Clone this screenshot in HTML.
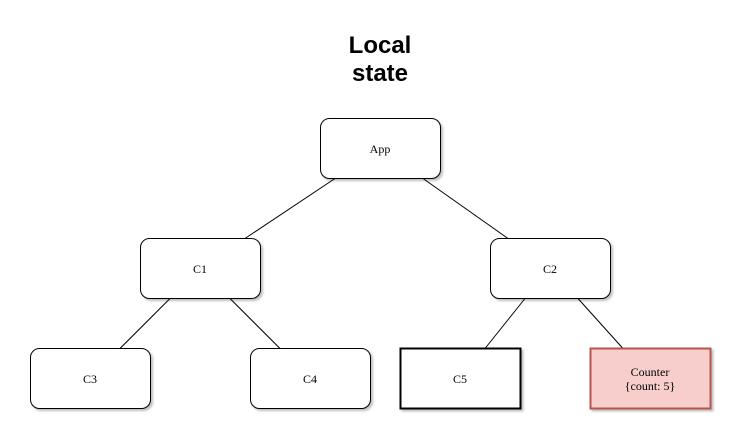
<!DOCTYPE html>
<html><head><meta charset="utf-8"><style>
html,body{margin:0;padding:0;background:#fff;width:744px;height:442px;overflow:hidden}
</style></head><body>
<svg width="744" height="442" xmlns="http://www.w3.org/2000/svg">
<defs><filter id="s" x="-10%" y="-10%" width="130%" height="130%"><feDropShadow dx="2" dy="2" stdDeviation="1" flood-color="#000" flood-opacity="0.25"/></filter></defs>
<text x="380" y="53" text-anchor="middle" font-family="Liberation Sans, sans-serif" font-weight="bold" font-size="24">Local</text>
<text x="380" y="81" text-anchor="middle" font-family="Liberation Sans, sans-serif" font-weight="bold" font-size="24">state</text>
<g stroke="#000" stroke-width="1">
<line x1="335" y1="178.5" x2="245" y2="238.5"/>
<line x1="423" y1="178.5" x2="508" y2="238.5"/>
<line x1="170" y1="298.5" x2="120" y2="348.5"/>
<line x1="230" y1="298.5" x2="280" y2="348.5"/>
<line x1="525" y1="298.5" x2="485" y2="348.5"/>
<line x1="578" y1="298.5" x2="623" y2="348.5"/>
</g>
<g fill="#fff" stroke="#000" stroke-width="1" filter="url(#s)">
<rect x="320.5" y="118.5" width="120" height="60" rx="9"/>
<rect x="140.5" y="238.5" width="120" height="60" rx="9"/>
<rect x="490.5" y="238.5" width="120" height="60" rx="9"/>
<rect x="30.5" y="348.5" width="120" height="60" rx="9"/>
<rect x="250.5" y="348.5" width="120" height="60" rx="9"/>
<rect x="400.5" y="348.5" width="120" height="60" stroke-width="2"/>
<rect x="590.5" y="348.5" width="120" height="60" fill="#f8cecc" stroke="#b85450" stroke-width="2"/>
</g>
<g font-family="Liberation Serif, serif" font-size="12" text-anchor="middle" fill="#000">
<text x="380" y="153">App</text>
<text x="200" y="273">C1</text>
<text x="550" y="273">C2</text>
<text x="90" y="383">C3</text>
<text x="310" y="383">C4</text>
<text x="460" y="383">C5</text>
<text x="650" y="376">Counter</text>
<text x="650" y="390">{count: 5}</text>
</g>
</svg>
</body></html>
